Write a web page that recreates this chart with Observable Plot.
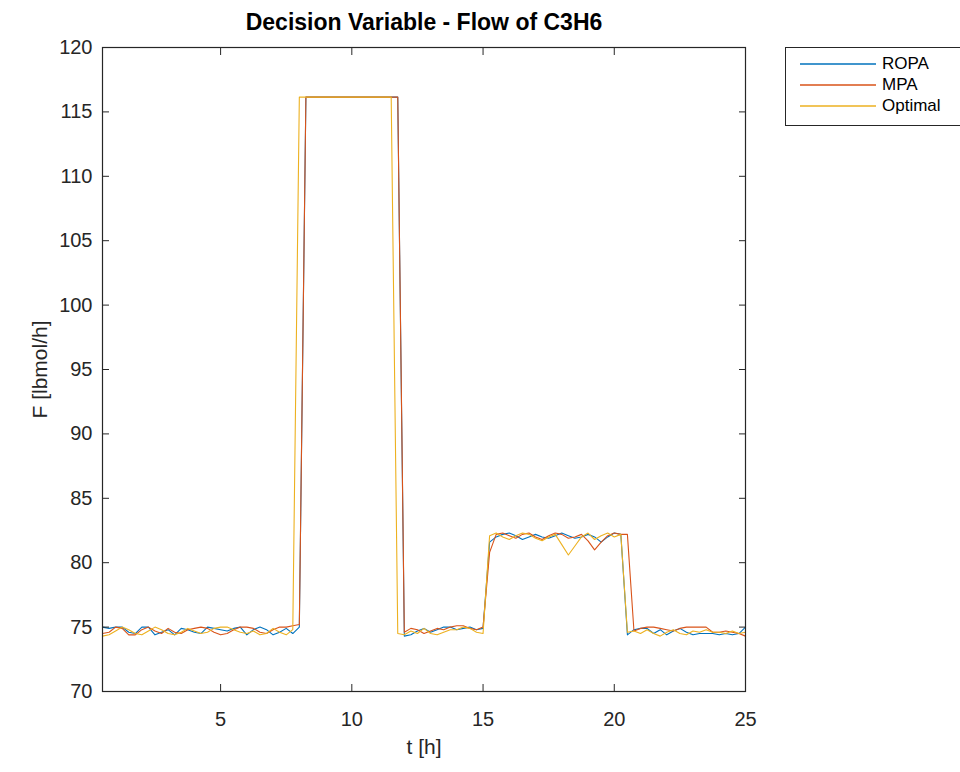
<!DOCTYPE html>
<html>
<head>
<meta charset="utf-8">
<script src="https://cdn.jsdelivr.net/npm/d3@7"></script>
<script src="https://cdn.jsdelivr.net/npm/@observablehq/plot@0.6"></script>
<style>
  html, body { margin: 0; padding: 0; background: #fff; }
  #wrap { position: relative; width: 960px; height: 772px; overflow: hidden; font-family: "Liberation Sans", Arial, sans-serif; }
  #legend { position: absolute; left: 785px; top: 47px; width: 185px; height: 79px; border: 1px solid #262626; background: #fff; box-sizing: border-box; }
  #legend .row { position: absolute; left: 0; height: 20px; display: flex; align-items: center; font-size: 17px; color: #000; }
  #legend .row span { margin-left: 4px; }
</style>
</head>
<body>
<div id="wrap"><div id="chart"></div><div id="legend"></div></div>
<script>
const title = "Decision Variable - Flow of C3H6";
const xLabel = "t [h]";
const yLabel = "F [lbmol/h]";
const seriesNames = ["ROPA", "MPA", "Optimal"];
const seriesColors = ["#0072BD", "#D95319", "#EDB120"];
const xTicks = [5, 10, 15, 20, 25];
const yTicks = [70, 75, 80, 85, 90, 95, 100, 105, 110, 115, 120];

const t = [0.5,0.75,1,1.25,1.5,1.75,2,2.25,2.5,2.75,3,3.25,3.5,3.75,4,4.25,4.5,4.75,5,5.25,5.5,5.75,6,6.25,6.5,6.75,7,7.25,7.5,7.75,
  8,8.25,8.5,8.75,9,9.25,9.5,9.75,10,10.25,10.5,10.75,11,11.25,11.5,11.75,12,12.25,12.5,12.75,13,13.25,13.5,13.75,14,14.25,14.5,14.75,15,
  15.25,15.5,15.75,16,16.25,16.5,16.75,17,17.25,17.5,17.75,18,18.25,18.5,18.75,19,19.25,19.5,19.75,20,20.25,20.5,20.75,21,21.25,21.5,21.75,
  22,22.25,22.5,22.75,23,23.25,23.5,23.75,24,24.25,24.5,24.75,25];

const ropa = [75.0,74.9,75.0,75.0,74.6,74.5,75.0,75.0,74.4,74.6,74.8,74.4,74.9,74.8,74.6,74.5,75.0,74.9,74.8,74.7,74.9,75.0,74.4,74.8,75.0,74.8,74.4,74.6,74.9,74.5,
  75.0,
  116.15,116.15,116.15,116.15,116.15,116.15,116.15,116.15,116.15,116.15,116.15,116.15,116.15,116.15,116.15,
  74.3,74.4,74.7,74.9,74.6,74.8,75.0,75.0,74.8,74.9,75.0,74.8,74.9,
  81.6,
  82.0,82.2,82.3,82.1,81.8,82.0,82.2,82.0,81.9,82.1,82.3,82.1,81.9,82.0,82.2,82.0,81.6,82.0,82.3,82.2,
  74.4,74.8,74.9,74.9,74.5,74.8,74.4,74.7,74.9,74.6,74.4,74.5,74.5,74.5,74.4,74.5,74.4,74.5,75.0];

const mpa = [74.5,74.6,75.0,74.9,74.4,74.4,74.8,75.0,74.7,74.5,74.9,74.6,74.5,74.8,74.9,75.0,74.9,74.6,74.4,74.5,74.8,75.0,75.0,74.9,74.6,74.5,74.8,75.0,75.0,75.1,
  75.2,
  116.15,116.15,116.15,116.15,116.15,116.15,116.15,116.15,116.15,116.15,116.15,116.15,116.15,116.15,116.15,
  74.6,74.9,74.8,74.5,74.7,74.9,74.8,75.0,75.1,75.1,74.9,74.8,75.0,
  80.8,
  82.2,82.3,82.1,81.9,82.2,82.3,82.0,81.8,82.1,82.3,82.2,81.9,82.0,82.2,81.7,81.0,81.6,82.1,82.3,82.2,82.2,
  74.7,74.9,75.0,75.0,74.9,74.8,74.7,74.9,75.0,75.0,75.0,75.0,74.6,74.6,74.7,74.6,74.5,74.3];

const optimal = [74.3,74.4,74.7,75.0,74.8,74.5,74.4,74.7,75.0,74.8,74.5,74.4,74.6,74.9,74.7,74.5,74.6,74.9,75.0,75.0,74.8,74.6,74.5,74.7,74.4,74.5,74.9,74.6,74.4,74.8,
  116.15,116.15,116.15,116.15,116.15,116.15,116.15,116.15,116.15,116.15,116.15,116.15,116.15,116.15,116.15,
  74.5,74.4,74.7,74.5,74.9,74.5,74.4,74.6,74.8,74.8,75.0,74.9,74.6,74.5,
  82.1,82.3,82.0,81.8,82.1,82.3,82.2,81.9,81.7,82.0,82.2,81.4,80.6,81.3,82.0,82.3,81.8,82.1,82.3,82.0,82.2,
  74.6,74.7,74.5,74.8,74.5,74.3,74.6,74.8,74.5,74.4,74.7,74.6,74.8,74.6,74.6,74.5,74.7,74.5,74.6];

const seriesValues = [ropa, mpa, optimal];
const rows = seriesValues.map((vals, s) => vals.map((v, i) => ({t: t[i], F: v, series: seriesNames[s]})));

const axisColor = "#262626";
const chart = Plot.plot({
  width: 960,
  height: 772,
  marginLeft: 102,
  marginRight: 215,
  marginTop: 47,
  marginBottom: 81,
  style: {fontFamily: "'Liberation Sans', Arial, sans-serif", fontSize: "20px", color: axisColor, background: "#fff"},
  x: {domain: [0.5, 25]},
  y: {domain: [70, 120]},
  marks: [
    ...rows.map((r, s) => Plot.line(r, {x: "t", y: "F", stroke: seriesColors[s], strokeWidth: 1.1})),
    Plot.frame({stroke: axisColor, strokeWidth: 1.2}),
    Plot.axisX(xTicks, {anchor: "bottom", tickSize: -7, tickFormat: () => "", label: null, stroke: axisColor}),
    Plot.axisX(xTicks, {anchor: "top", tickSize: -7, tickFormat: () => "", label: null, stroke: axisColor}),
    Plot.axisY(yTicks, {anchor: "left", tickSize: -7, tickFormat: () => "", label: null, stroke: axisColor}),
    Plot.axisY(yTicks, {anchor: "right", tickSize: -7, tickFormat: () => "", label: null, stroke: axisColor}),
    Plot.axisX(xTicks, {anchor: "bottom", tickSize: 0, tickPadding: 20, label: null, fill: axisColor, fontSize: 20}),
    Plot.axisY(yTicks, {anchor: "left", tickSize: 0, tickPadding: 10, label: null, fill: axisColor, fontSize: 20}),
    Plot.text([xLabel], {frameAnchor: "bottom", dy: 56, lineAnchor: "middle", fontSize: 21, fill: axisColor}),
    Plot.text([yLabel], {frameAnchor: "left", dx: -62, rotate: -90, textAnchor: "middle", lineAnchor: "middle", fontSize: 21, fill: axisColor}),
    Plot.text([title], {frameAnchor: "top", dy: -25, lineAnchor: "middle", fontSize: 23, fontWeight: "bold", fill: "#000"})
  ]
});
document.getElementById("chart").appendChild(chart);

const legend = document.getElementById("legend");
seriesNames.forEach((name, i) => {
  const row = document.createElement("div");
  row.className = "row";
  row.style.top = (6 + i * 21) + "px";
  row.innerHTML = `<svg width="92" height="20"><line x1="14" x2="90" y1="10" y2="10" stroke="${seriesColors[i]}" stroke-width="1.3"/></svg><span>${name}</span>`;
  legend.appendChild(row);
});
</script>
</body>
</html>
